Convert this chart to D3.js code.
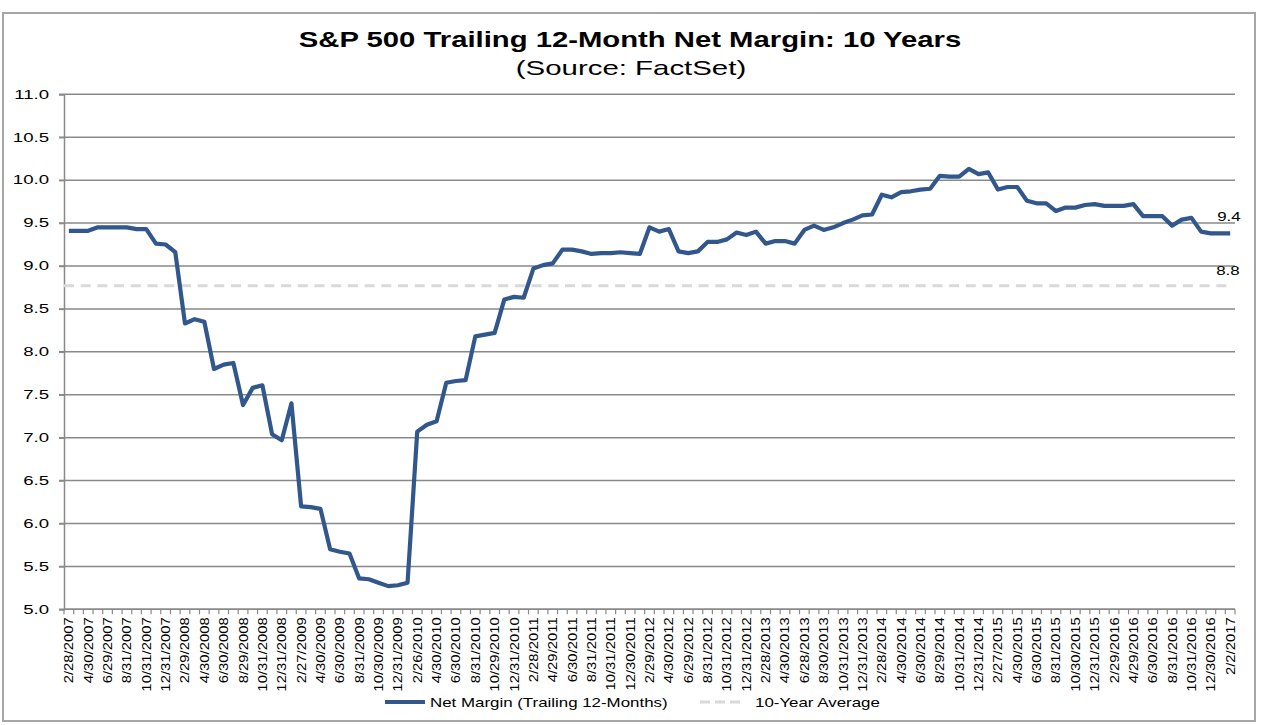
<!DOCTYPE html>
<html>
<head>
<meta charset="utf-8">
<script src="https://cdn.jsdelivr.net/npm/d3@7.9.0/dist/d3.min.js"></script>
<style>
  body { margin: 0; background: #fff; }
  svg text { font-family: "Liberation Sans", Arial, sans-serif; fill: #000; }
</style>
</head>
<body>
<svg id="chart" width="1263" height="725"></svg>
<script>
// month-end observation dates (every other one is shown on the axis)
const dates = [
  '2/28/2007', '3/30/2007', '4/30/2007', '5/31/2007', '6/29/2007', '7/31/2007', '8/31/2007', '9/28/2007',
  '10/31/2007', '11/30/2007', '12/31/2007', '1/31/2008', '2/29/2008', '3/31/2008', '4/30/2008', '5/30/2008',
  '6/30/2008', '7/31/2008', '8/29/2008', '9/30/2008', '10/31/2008', '11/28/2008', '12/31/2008', '1/30/2009',
  '2/27/2009', '3/31/2009', '4/30/2009', '5/29/2009', '6/30/2009', '7/31/2009', '8/31/2009', '9/30/2009',
  '10/30/2009', '11/30/2009', '12/31/2009', '1/29/2010', '2/26/2010', '3/31/2010', '4/30/2010', '5/28/2010',
  '6/30/2010', '7/30/2010', '8/31/2010', '9/30/2010', '10/29/2010', '11/30/2010', '12/31/2010', '1/31/2011',
  '2/28/2011', '3/31/2011', '4/29/2011', '5/31/2011', '6/30/2011', '7/29/2011', '8/31/2011', '9/30/2011',
  '10/31/2011', '11/30/2011', '12/30/2011', '1/31/2012', '2/29/2012', '3/30/2012', '4/30/2012', '5/31/2012',
  '6/29/2012', '7/31/2012', '8/31/2012', '9/28/2012', '10/31/2012', '11/30/2012', '12/31/2012', '1/31/2013',
  '2/28/2013', '3/28/2013', '4/30/2013', '5/31/2013', '6/28/2013', '7/31/2013', '8/30/2013', '9/30/2013',
  '10/31/2013', '11/29/2013', '12/31/2013', '1/31/2014', '2/28/2014', '3/31/2014', '4/30/2014', '5/30/2014',
  '6/30/2014', '7/31/2014', '8/29/2014', '9/30/2014', '10/31/2014', '11/28/2014', '12/31/2014', '1/30/2015',
  '2/27/2015', '3/31/2015', '4/30/2015', '5/29/2015', '6/30/2015', '7/31/2015', '8/31/2015', '9/30/2015',
  '10/30/2015', '11/30/2015', '12/31/2015', '1/29/2016', '2/29/2016', '3/31/2016', '4/29/2016', '5/31/2016',
  '6/30/2016', '7/29/2016', '8/31/2016', '9/30/2016', '10/31/2016', '11/30/2016', '12/30/2016', '1/31/2017',
  '2/2/2017'
];

const netMargin = [
  9.41, 9.41, 9.41, 9.45, 9.45, 9.45, 9.45, 9.43, 9.43, 9.26, 9.25, 9.16, 8.33, 8.38, 8.35, 7.80,
  7.85, 7.87, 7.38, 7.58, 7.61, 7.04, 6.97, 7.40, 6.20, 6.19, 6.17, 5.70, 5.67, 5.65, 5.36, 5.35,
  5.31, 5.27, 5.28, 5.31, 7.07, 7.15, 7.19, 7.64, 7.66, 7.67, 8.18, 8.20, 8.22, 8.61, 8.64, 8.63,
  8.97, 9.01, 9.03, 9.19, 9.19, 9.17, 9.14, 9.15, 9.15, 9.16, 9.15, 9.14, 9.45, 9.40, 9.43, 9.17,
  9.15, 9.17, 9.28, 9.28, 9.31, 9.39, 9.36, 9.40, 9.26, 9.29, 9.29, 9.26, 9.42, 9.47, 9.42, 9.45,
  9.50, 9.54, 9.59, 9.60, 9.83, 9.80, 9.86, 9.87, 9.89, 9.90, 10.05, 10.04, 10.04, 10.13, 10.07, 10.09,
  9.89, 9.92, 9.92, 9.76, 9.73, 9.73, 9.64, 9.68, 9.68, 9.71, 9.72, 9.70, 9.70, 9.70, 9.72, 9.58,
  9.58, 9.58, 9.47, 9.54, 9.56, 9.40, 9.38, 9.38, 9.38
];

const tenYearAverage = 8.77;
const yTicks = [5.0, 5.5, 6.0, 6.5, 7.0, 7.5, 8.0, 8.5, 9.0, 9.5, 10.0, 10.5, 11.0];
const chartTitle = 'S&P 500 Trailing 12-Month Net Margin: 10 Years';
const chartSubtitle = '(Source: FactSet)';
const legendLabels = ['Net Margin (Trailing 12-Months)', '10-Year Average'];

const lineColor = '#32578c';
const avgColor = '#d9d9d9';
const gridColor = '#898989';

const plot = { left: 64, right: 1235, top: 94.3, bottom: 609.3 };

const svg = d3.select('#chart');

// stretch text a bit wider, the source renders its fonts wide
function widen(sel, factor) {
  sel.each(function () {
    const w = this.getComputedTextLength();
    d3.select(this).attr('textLength', w * factor).attr('lengthAdjust', 'spacingAndGlyphs');
  });
}

svg.append('rect')
  .attr('x', 3).attr('y', 13)
  .attr('width', 1252).attr('height', 708)
  .attr('fill', '#fff')
  .attr('stroke', '#a6a6a6')
  .attr('stroke-width', 2);

const x = d3.scalePoint().domain(dates).range([plot.left, plot.right]).padding(0.5);
const xBand = d3.scaleBand().domain(dates).range([plot.left, plot.right]);
const y = d3.scaleLinear().domain([5, 11]).range([plot.bottom, plot.top]);

// gridlines
svg.append('g')
  .selectAll('line')
  .data(yTicks)
  .join('line')
  .attr('x1', plot.left - 5)
  .attr('x2', plot.right)
  .attr('y1', (d) => y(d))
  .attr('y2', (d) => y(d))
  .attr('stroke', gridColor)
  .attr('stroke-width', 1.5);

// y axis
const yAxis = svg.append('g')
  .attr('transform', `translate(${plot.left},0)`)
  .call(d3.axisLeft(y).tickValues(yTicks).tickFormat(d3.format('.1f')).tickSize(5).tickPadding(10));
yAxis.select('.domain').attr('stroke', gridColor).attr('stroke-width', 1.5);
yAxis.selectAll('.tick line').attr('stroke', gridColor).attr('stroke-width', 1.5);
yAxis.selectAll('.tick text')
  .attr('font-size', 12)
  .attr('fill', '#000')
  .call(widen, 1.55);

// x axis: a tick at each category edge, a label on every second category
const xAxis = svg.append('g');
xAxis.append('line')
  .attr('x1', plot.left).attr('x2', plot.right)
  .attr('y1', plot.bottom).attr('y2', plot.bottom)
  .attr('stroke', gridColor)
  .attr('stroke-width', 1.5);
xAxis.selectAll('line.tick')
  .data(dates.concat(['end']))
  .join('line')
  .attr('class', 'tick')
  .attr('x1', (d) => (d === 'end' ? plot.right : xBand(d)))
  .attr('x2', (d) => (d === 'end' ? plot.right : xBand(d)))
  .attr('y1', plot.bottom)
  .attr('y2', plot.bottom + 5)
  .attr('stroke', gridColor)
  .attr('stroke-width', 1.2);
xAxis.selectAll('text')
  .data(dates.filter((d, i) => i % 2 === 0))
  .join('text')
  .attr('transform', (d) => `translate(${x(d) + 4.5},${plot.bottom + 8}) rotate(-90)`)
  .attr('text-anchor', 'end')
  .attr('font-size', 13.5)
  .text((d) => d)
  .call(widen, 1.1);

// 10-year average
svg.append('line')
  .attr('x1', plot.left).attr('x2', x(dates[dates.length - 1]))
  .attr('y1', y(tenYearAverage)).attr('y2', y(tenYearAverage))
  .attr('stroke', avgColor)
  .attr('stroke-width', 3)
  .attr('stroke-dasharray', '10,6.7');

// net margin line
const line = d3.line()
  .x((d, i) => x(dates[i]))
  .y((d) => y(d));

svg.append('path')
  .datum(netMargin)
  .attr('d', line)
  .attr('fill', 'none')
  .attr('stroke', lineColor)
  .attr('stroke-width', 4.2)
  .attr('stroke-linejoin', 'round');

// end labels
const lastDate = dates[dates.length - 1];
svg.append('text')
  .attr('x', x(lastDate) - 13)
  .attr('y', y(netMargin[netMargin.length - 1]) - 12)
  .attr('font-size', 13)
  .text(d3.format('.1f')(netMargin[netMargin.length - 1]))
  .call(widen, 1.3);
svg.append('text')
  .attr('x', x(lastDate) - 14)
  .attr('y', y(tenYearAverage) - 11)
  .attr('font-size', 13)
  .text(d3.format('.1f')(tenYearAverage))
  .call(widen, 1.3);

// titles
svg.append('text')
  .attr('x', 630).attr('y', 47)
  .attr('text-anchor', 'middle')
  .attr('font-size', 22)
  .attr('font-weight', 'bold')
  .text(chartTitle)
  .call(widen, 1.33);
svg.append('text')
  .attr('x', 631).attr('y', 75)
  .attr('text-anchor', 'middle')
  .attr('font-size', 21)
  .attr('font-weight', 'normal')
  .text(chartSubtitle)
  .call(widen, 1.4);

// legend
const legend = svg.append('g').attr('transform', 'translate(385,702)');
legend.append('line')
  .attr('x1', 0).attr('x2', 40)
  .attr('stroke', lineColor).attr('stroke-width', 4);
legend.append('text')
  .attr('x', 45).attr('y', 5)
  .attr('font-size', 13.5)
  .text(legendLabels[0])
  .call(widen, 1.25);
legend.append('line')
  .attr('x1', 315).attr('x2', 355)
  .attr('stroke', avgColor).attr('stroke-width', 3)
  .attr('stroke-dasharray', '10,5');
legend.append('text')
  .attr('x', 370).attr('y', 5)
  .attr('font-size', 13.5)
  .text(legendLabels[1])
  .call(widen, 1.25);
</script>
</body>
</html>
